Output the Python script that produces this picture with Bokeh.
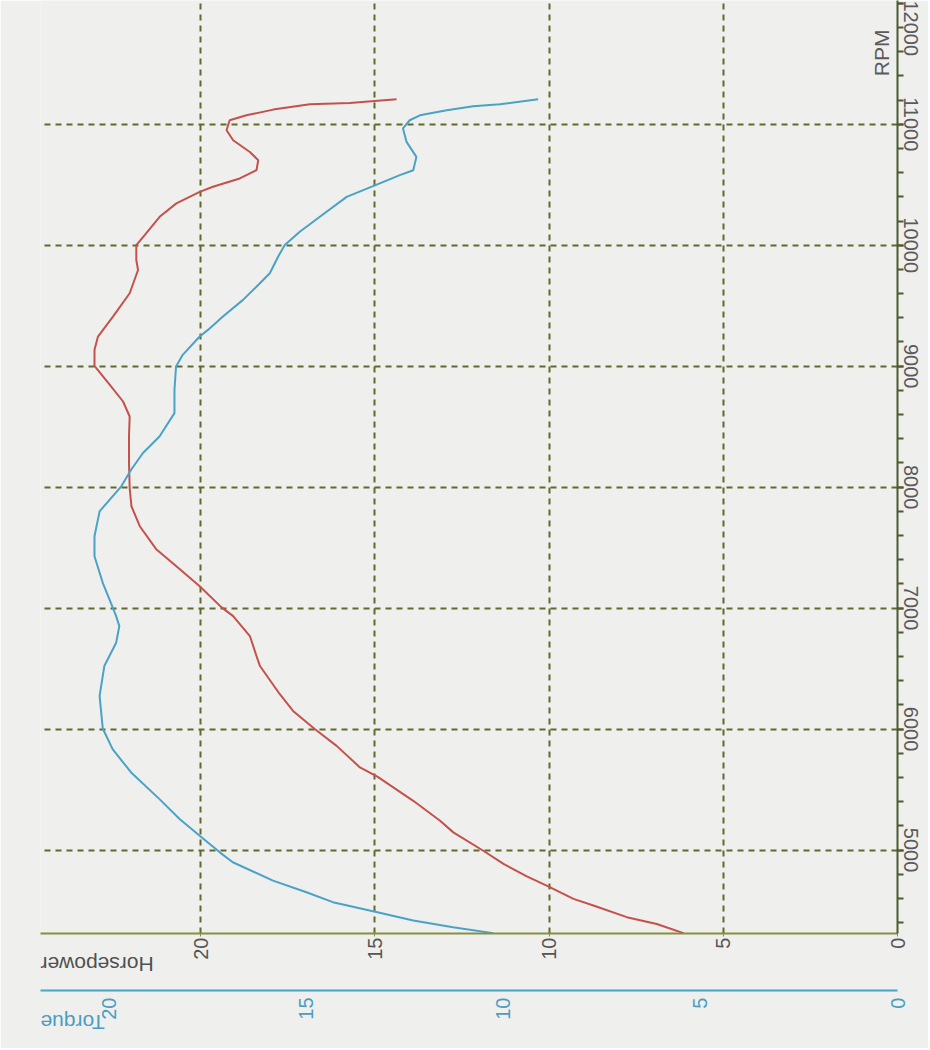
import math
from bokeh.plotting import figure
from bokeh.models import Range1d, LinearAxis, FixedTicker, Label
from bokeh.embed import file_html
from bokeh.resources import INLINE

# ---- data read from the dyno sheet ----
hp_rpm = [4313, 4389, 4445, 4541, 4596, 4701, 4783, 4885, 4994, 5146,
          5242, 5407, 5607, 5683, 5861, 5999, 6150, 6288, 6521, 6604,
          6769, 6934, 7008, 7181, 7346, 7484, 7677, 7842, 7993, 8200,
          8419, 8584, 8708, 8846, 9003, 9135, 9245, 9410, 9603, 9795,
          9878, 10001, 10084, 10235, 10346, 10441, 10483, 10552, 10620, 10703,
          10771, 10868, 10950, 11033, 11074, 11121, 11165, 11176, 11206]
hp_values = [6.14, 6.91, 7.77, 8.73, 9.30, 10.04, 10.64, 11.31, 11.89, 12.75,
             13.13, 13.90, 14.93, 15.43, 16.10, 16.72, 17.35, 17.73, 18.30, 18.40,
             18.59, 19.07, 19.41, 20.03, 20.70, 21.27, 21.75, 21.99, 22.04, 22.06,
             22.06, 22.04, 22.23, 22.61, 23.05, 23.05, 22.95, 22.52, 22.04, 21.80,
             21.85, 21.85, 21.61, 21.18, 20.70, 20.03, 19.65, 18.88, 18.40, 18.35,
             18.59, 19.07, 19.26, 19.17, 18.69, 17.92, 16.87, 15.72, 14.38]

tq_rpm = [4313, 4362, 4417, 4486, 4569, 4651, 4747, 4899, 4981, 5118,
          5256, 5421, 5641, 5834, 6005, 6274, 6521, 6714, 6851, 6934,
          7072, 7209, 7429, 7594, 7800, 8007, 8144, 8282, 8419, 8612,
          8805, 8997, 9094, 9245, 9300, 9410, 9548, 9657, 9768, 9905,
          10001, 10111, 10235, 10400, 10488, 10579, 10620, 10730, 10854, 10965,
          11033, 11074, 11116, 11149, 11165, 11206]
tq_values = [10.26, 11.28, 12.29, 13.20, 14.33, 15.00, 15.85, 16.87, 17.20, 17.71,
             18.22, 18.73, 19.45, 19.92, 20.17, 20.25, 20.13, 19.83, 19.75, 19.83,
             20.00, 20.17, 20.38, 20.38, 20.25, 19.70, 19.45, 19.15, 18.73, 18.35,
             18.35, 18.31, 18.14, 17.71, 17.50, 17.12, 16.61, 16.27, 15.93, 15.72,
             15.55, 15.17, 14.66, 13.98, 13.31, 12.63, 12.29, 12.21, 12.46, 12.55,
             12.38, 12.12, 11.44, 10.77, 10.09, 9.12]

rpm_ticks = [5000, 6000, 7000, 8000, 9000, 10000, 11000, 12000]
rpm_grid = [5000, 6000, 7000, 8000, 9000, 10000, 11000]
rpm_minor = [4400, 4600, 4800, 5000, 5200, 5400, 5600, 5800, 6000, 6200, 6400,
             6600, 6800, 7000, 7200, 7400, 7600, 7800, 8000, 8200, 8400, 8600,
             8800, 9000, 9200, 9400, 9600, 9800, 10000, 10200, 10400, 10600,
             10800, 11000, 11200, 11400, 11600, 11800, 12000]
hp_ticks = [0, 5, 10, 15, 20]
hp_grid = [5, 10, 15, 20]
tq_ticks = [0, 5, 10, 15, 20]

FONT = "Liberation Sans"
BG = "#efefed"
GRID = "#5f6a2c"
RED = "#c4514c"
BLUE = "#4aa2c6"

HAS_ORI = "axis_label_orientation" in LinearAxis.properties()
HAS_ALIGN = "axis_label_align" in LinearAxis.properties()

p = figure(width=928, height=1048,
           x_range=Range1d(24.6, 0), y_range=Range1d(4310, 12023),
           y_axis_location="right", output_backend="svg", toolbar_location=None,
           min_border_left=40, min_border_right=31, min_border_top=0,
           min_border_bottom=0,
           background_fill_color=BG, border_fill_color=BG,
           outline_line_color=None)
p.extra_x_ranges = {"torque": Range1d(21.75, 0)}

# grid
p.xgrid.ticker = FixedTicker(ticks=hp_grid)
p.ygrid.ticker = FixedTicker(ticks=rpm_grid)
p.grid.grid_line_color = GRID
p.grid.grid_line_width = 2
p.grid.grid_line_dash = "6 5"

# RPM axis (right)
ya = p.yaxis[0]
ya.ticker = FixedTicker(ticks=rpm_ticks, minor_ticks=rpm_minor)
ya.axis_line_color = "#4d5a2e"
ya.axis_line_width = 2
ya.major_tick_line_color = "#4d5a2e"
ya.minor_tick_line_color = "#4d5a2e"
ya.major_tick_line_width = 2
ya.minor_tick_line_width = 2
ya.major_tick_out = 6
ya.major_tick_in = 0
ya.minor_tick_out = 6
ya.minor_tick_in = 0
ya.major_label_orientation = "vertical"
ya.major_label_standoff = 0
ya.major_label_text_font = FONT
ya.major_label_text_font_size = "20px"
ya.major_label_text_color = "#5a5a5a"

# Horsepower axis (below, first)
xa = p.xaxis[0]
xa.ticker = FixedTicker(ticks=hp_ticks)
xa.axis_line_color = "#86903f"
xa.axis_line_width = 2
xa.major_tick_line_color = "#86903f"
xa.major_tick_out = 3
xa.major_tick_in = 0
xa.minor_tick_line_color = None
xa.major_label_orientation = math.pi / 2
xa.major_label_standoff = 1
xa.major_label_text_font = FONT
xa.major_label_text_font_size = "20px"
xa.major_label_text_color = "#555555"
xa.axis_label = "Horsepower"
xa.axis_label_standoff = 2
xa.axis_label_text_font = FONT
xa.axis_label_text_font_style = "normal"
xa.axis_label_text_font_size = "21px"
xa.axis_label_text_color = "#505050"
xa.axis_label_text_baseline = "bottom"

# Torque axis (below, second)
ta = LinearAxis(x_range_name="torque", ticker=FixedTicker(ticks=tq_ticks))
ta.axis_line_color = BLUE
ta.axis_line_width = 2
ta.major_tick_line_color = None
ta.minor_tick_line_color = None
ta.major_label_orientation = math.pi / 2
ta.major_label_standoff = 1
ta.major_label_text_font = FONT
ta.major_label_text_font_size = "20px"
ta.major_label_text_color = "#4a9dc2"
ta.axis_label = "Torque"
ta.axis_label_standoff = 0
ta.axis_label_text_font = FONT
ta.axis_label_text_font_style = "normal"
ta.axis_label_text_font_size = "21px"
ta.axis_label_text_color = "#4a9dc2"
ta.axis_label_text_baseline = "bottom"
p.add_layout(ta, "below")

for ax in (xa, ta):
    if HAS_ORI:
        ax.axis_label_orientation = math.pi
    if HAS_ALIGN:
        ax.axis_label_align = "end"

# curves
p.line(hp_values, hp_rpm, line_color=RED, line_width=2)
p.line(tq_values, tq_rpm, x_range_name="torque", line_color=BLUE, line_width=2)

# RPM title inside the frame next to the axis
p.add_layout(Label(x=0.46, y=11590, text="RPM", angle=math.pi / 2,
                   text_align="center", text_baseline="middle",
                   text_font=FONT, text_font_size="21px", text_color="#5a5a5a"))

open("out.html", "w").write(file_html(p, INLINE))
